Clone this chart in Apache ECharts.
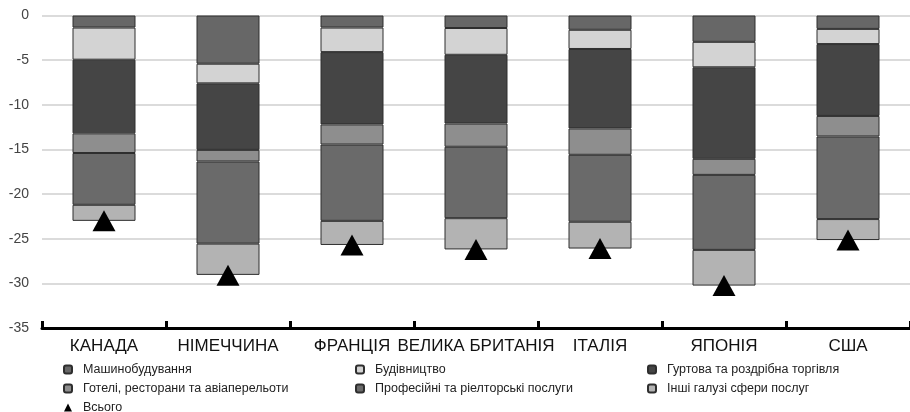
<!DOCTYPE html>
<html><head><meta charset="utf-8">
<script src="https://cdn.jsdelivr.net/npm/echarts@6/dist/echarts.min.js"></script>
<style>html,body{margin:0;padding:0;background:#fff}#c{width:910px;height:412px}</style>
</head><body><div id="c"></div>
<script>
const categories = ['КАНАДА','НІМЕЧЧИНА','ФРАНЦІЯ','ВЕЛИКА БРИТАНІЯ','ІТАЛІЯ','ЯПОНІЯ','США'];
const seriesNames = ['Машинобудування','Будівництво','Гуртова та роздрібна торгівля','Готелі, ресторани та авіаперельоти','Професійні та ріелторські послуги','Інші галузі сфери послуг'];
const machinery    = [-1.35, -5.4, -1.35, -1.4, -1.6, -2.95, -1.5];
const construction = [-3.6, -2.2, -2.75, -3.0, -2.15, -2.85, -1.7];
const trade        = [-8.25, -7.45, -8.1, -7.7, -8.9, -10.25, -8.05];
const hotels       = [-2.2, -1.3, -2.25, -2.6, -2.95, -1.8, -2.3];
const professional = [-5.8, -9.2, -8.55, -8.0, -7.5, -8.4, -9.25];
const otherServices= [-1.8, -3.5, -2.7, -3.5, -3.0, -4.0, -2.35];
const total        = [-23.0, -29.1, -25.7, -26.2, -26.1, -30.25, -25.15];
const totalName = 'Всього';
const yTicks = [0,-5,-10,-15,-20,-25,-30,-35];

const colors = ['#676767','#d3d3d3','#454545','#8e8e8e','#6a6a6a','#b3b3b3'];
const values = [machinery, construction, trade, hotels, professional, otherServices];
const font = '"Liberation Sans Narrow","Arial Narrow","Liberation Sans",Arial,sans-serif';

const series = values.map((v,i)=>({
  name: seriesNames[i], type:'bar', stack:'s', data:v, barWidth:63,
  itemStyle:{color:colors[i], borderColor:'#2e2e2e', borderWidth:1}
}));
series.push({name: totalName, type:'scatter', data: total, symbol:'triangle', symbolSize:[23,21],
  itemStyle:{color:'#000', opacity:1}, z:5});

const legendBase = {orient:'vertical', itemWidth:8, itemHeight:8, itemGap:6, height:70,
  textStyle:{fontFamily:font, fontSize:12.5, color:'#222', padding:[0,0,0,6]}, padding:0};
const chart = echarts.init(document.getElementById('c'), null, {renderer:'canvas'});
chart.setOption({
  animation:false,
  grid:{left:42, right:-9, top:15.5, bottom:84, containLabel:false},
  legend:[
    Object.assign({}, legendBase, {left:63, top:363, data:[seriesNames[0], seriesNames[3], {name: totalName, icon:'triangle'}]}),
    Object.assign({}, legendBase, {left:355, top:363, data:[seriesNames[1], seriesNames[4]]}),
    Object.assign({}, legendBase, {left:647, top:363, data:[seriesNames[2], seriesNames[5]]})
  ],
  xAxis:{type:'category', data:categories,
    axisLine:{onZero:false, lineStyle:{color:'#000', width:3}},
    axisTick:{show:true, inside:true, interval:0, length:7, lineStyle:{color:'#000', width:3}},
    axisLabel:{interval:0, fontFamily:font, fontSize:17, color:'#111', margin:10}
  },
  yAxis:{type:'value', min:-35, max:0, interval:5,
    axisLine:{show:false}, axisTick:{show:false},
    axisLabel:{fontFamily:font, fontSize:14, color:'#444', margin:13},
    splitLine:{lineStyle:{color:'#cfcfcf', width:1.5}}
  },
  series: series
});
</script></body></html>
